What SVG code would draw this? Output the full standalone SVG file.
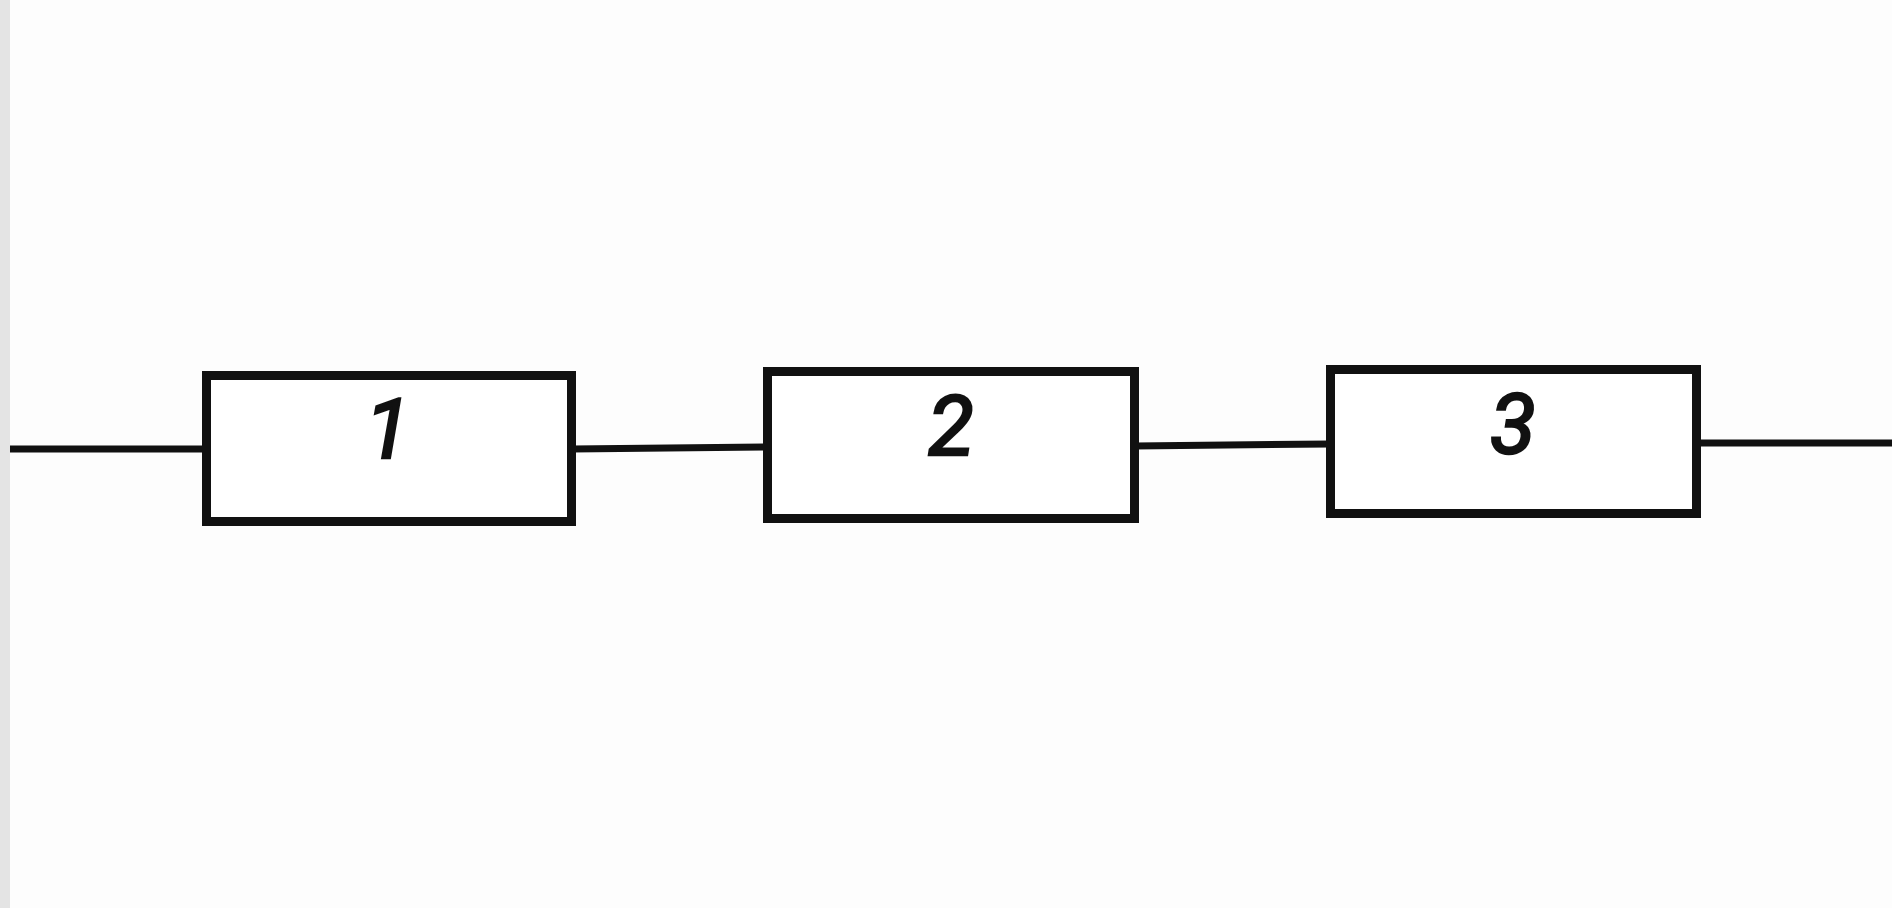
<svg xmlns="http://www.w3.org/2000/svg" width="1892" height="908" viewBox="0 0 1892 908">
<style>
.box{fill:#ffffff;stroke:#111111;stroke-width:9}
.wire{stroke:#111111;stroke-width:7;fill:none}
.lbl{font-family:Roboto,"Liberation Sans",Arial,sans-serif;font-style:italic;font-size:84px;fill:#111111;text-anchor:middle;stroke:#111111;stroke-width:2.5}
</style>
<rect x="0" y="0" width="1892" height="908" fill="#fdfdfd"/>
<rect x="0" y="0" width="10" height="908" fill="#e4e4e4"/>
<g id="connectors">
<line class="wire" x1="10" y1="449" x2="206" y2="449"/>
<line class="wire" x1="572" y1="449" x2="767" y2="447"/>
<line class="wire" x1="1135" y1="446" x2="1330" y2="444"/>
<line class="wire" x1="1697" y1="443" x2="1892" y2="443"/>
</g>
<g id="node1">
<rect class="box" x="206.5" y="375.5" width="365" height="146"/>
<text class="lbl" x="388" y="458">1</text>
</g>
<g id="node2">
<rect class="box" x="767.5" y="371.5" width="367" height="147"/>
<text class="lbl" x="951" y="455">2</text>
</g>
<g id="node3">
<rect class="box" x="1330.5" y="369.5" width="366" height="144"/>
<text class="lbl" x="1513" y="453">3</text>
</g>
</svg>
